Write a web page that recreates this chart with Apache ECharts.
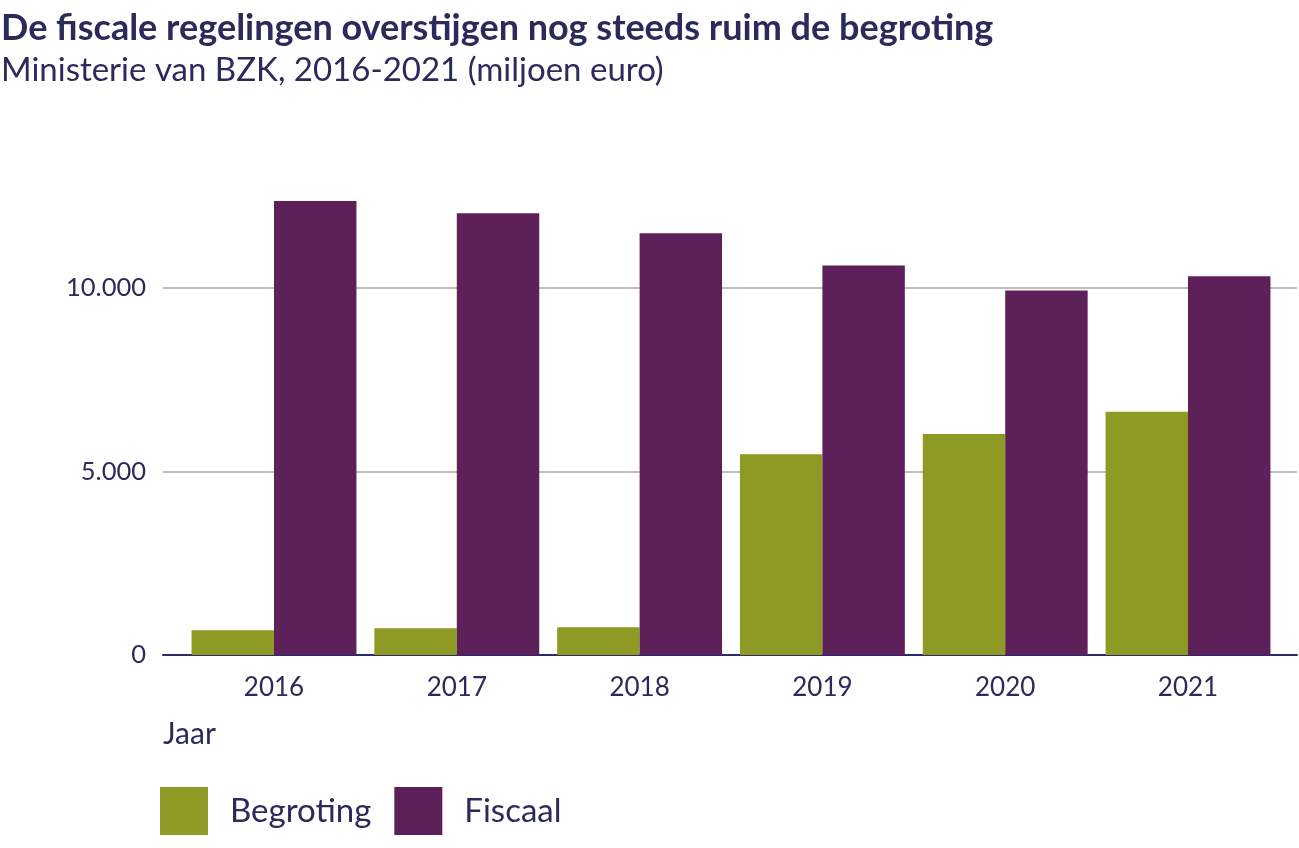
<!DOCTYPE html>
<html>
<head>
<meta charset="utf-8">
<script src="https://cdn.jsdelivr.net/npm/echarts@6/dist/echarts.min.js"></script>
<style>
  html, body { margin: 0; padding: 0; background: #ffffff; }
  #chart { width: 1299px; height: 848px; }
</style>
</head>
<body>
<div id="chart"></div>
<script>
const years = ['2016', '2017', '2018', '2019', '2020', '2021'];
const begroting = [673, 727, 755, 5470, 6020, 6630];
const fiscaal = [12370, 12035, 11490, 10610, 9930, 10320];
const seriesNames = ['Begroting', 'Fiscaal'];
const titleText = 'De fiscale regelingen overstijgen nog steeds ruim de begroting';
const subtitleText = 'Ministerie van BZK, 2016-2021 (miljoen euro)';
const xAxisTitle = 'Jaar';

const textColor = '#2a2b5c';
const fontFam = 'Lato, "Open Sans", sans-serif';

const chart = echarts.init(document.getElementById('chart'), null, { renderer: 'canvas' });

function fmt(v) {
  return String(v).replace(/\B(?=(\d{3})+(?!\d))/g, '.');
}

const option = {
  backgroundColor: '#ffffff',
  animation: false,
  color: ['#8e9a24', '#5e2059'],
  title: [
    {
      text: titleText,
      subtext: subtitleText,
      left: -4,
      top: 5,
      itemGap: 8,
      textStyle: { color: textColor, fontFamily: fontFam, fontWeight: 'bold', fontSize: 36 },
      subtextStyle: { color: textColor, fontFamily: fontFam, fontWeight: 'normal', fontSize: 33 }
    },
    {
      text: xAxisTitle,
      left: 158,
      top: 714,
      textStyle: { color: textColor, fontFamily: fontFam, fontWeight: 'normal', fontSize: 30 }
    }
  ],
  legend: {
    data: seriesNames,
    left: 155,
    top: 782,
    itemWidth: 48,
    itemHeight: 48,
    itemGap: 23,
    icon: 'rect',
    textStyle: { color: textColor, fontFamily: fontFam, fontSize: 33, padding: [0, 0, 0, 17] }
  },
  grid: [
    { left: 163, right: 2, top: 177.9, bottom: 193 },
    { left: 182.6, right: 19.6, top: 177.9, bottom: 193 }
  ],
  xAxis: [
    {
      gridIndex: 0, type: 'value', min: 0, max: 1,
      axisLine: { show: true, lineStyle: { color: '#2b2a6b', width: 2 } },
      axisTick: { show: false }, axisLabel: { show: false }, splitLine: { show: false }
    },
    {
      gridIndex: 1, type: 'category', data: years,
      axisLine: { show: false }, axisTick: { show: false },
      axisLabel: { color: textColor, fontFamily: fontFam, fontSize: 26, margin: 20 }
    }
  ],
  yAxis: [
    {
      gridIndex: 0, type: 'value', min: 0, max: 13000, interval: 5000,
      axisLine: { show: false }, axisTick: { show: false },
      axisLabel: { color: textColor, fontFamily: fontFam, fontSize: 25.5, margin: 17, showMaxLabel: false, formatter: fmt },
      splitLine: { show: true, showMinLine: false, showMaxLine: false, lineStyle: { color: '#a9a9a9', width: 1.5 } }
    },
    {
      gridIndex: 1, type: 'value', min: 0, max: 13000, interval: 5000,
      show: false, splitLine: { show: false }
    }
  ],
  series: [
    {
      name: seriesNames[0], type: 'bar', xAxisIndex: 1, yAxisIndex: 1,
      data: begroting, barGap: '0%', barCategoryGap: '9.8%'
    },
    {
      name: seriesNames[1], type: 'bar', xAxisIndex: 1, yAxisIndex: 1,
      data: fiscaal, barGap: '0%', barCategoryGap: '9.8%'
    }
  ]
};

chart.setOption(option);
</script>
</body>
</html>
